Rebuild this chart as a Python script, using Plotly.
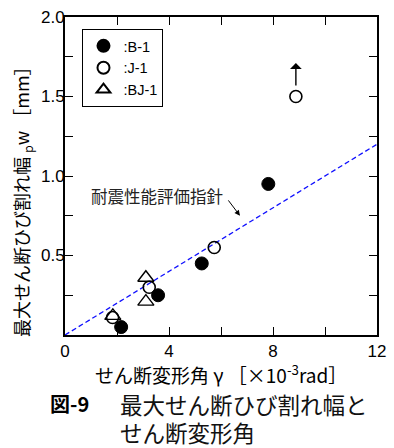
import plotly.graph_objects as go

# Data
b1_x = [2.16, 3.58, 5.26, 7.82]
b1_y = [0.05, 0.25, 0.45, 0.95]
j1_x = [1.83, 3.24, 5.74, 8.88]
j1_y = [0.11, 0.30, 0.55, 1.50]
bj1_x = [1.84, 3.11, 3.11]
bj1_y = [0.12, 0.36, 0.21]
guide_x = [0, 12]
guide_y = [0, 1.2]

xtick_vals = [0, 4, 8, 12]
xtick_text = ["0", "4", "8", "12"]
ytick_vals = [0.5, 1.0, 1.5, 2.0]
ytick_text = ["0.5", "1.0", "1.5", "2.0"]

FONT = "Liberation Sans, Arial, Noto Sans CJK JP"
CJK = "Noto Sans CJK JP, sans-serif"

# plot area in pixels (for placing paper-referenced texts)
L, R, T, B = 65, 386, 15, 335
def px(xp):
    return (xp - L) / (R - L)
def py(yp):
    return (B - yp) / (B - T)

fig = go.Figure()
fig.add_trace(go.Scatter(x=guide_x, y=guide_y, mode="lines",
                         line=dict(color="#1010ff", width=1.3, dash="5px,3px"),
                         showlegend=False, hoverinfo="skip"))
fig.add_trace(go.Scatter(x=b1_x, y=b1_y, mode="markers", name=":B-1",
                         marker=dict(symbol="circle", size=13, color="black",
                                     line=dict(color="black", width=1))))
fig.add_trace(go.Scatter(x=j1_x, y=j1_y, mode="markers", name=":J-1",
                         marker=dict(symbol="circle-open", size=12, color="black",
                                     line=dict(color="black", width=1.6))))
fig.add_trace(go.Scatter(x=bj1_x, y=bj1_y, mode="markers", name=":BJ-1",
                         marker=dict(symbol="triangle-up-open", size=14, color="black",
                                     line=dict(color="black", width=1.4))))

axis_common = dict(showline=True, linecolor="black", linewidth=2, mirror="ticks",
                   ticks="inside", ticklen=8, tickwidth=1.2, tickcolor="black",
                   showgrid=False, zeroline=False,
                   tickfont=dict(family=FONT, size=17, color="black"))

fig.update_xaxes(range=[0, 12], tickvals=xtick_vals, ticktext=xtick_text,
                 minor=dict(dtick=2, tick0=0, ticks="inside", ticklen=8, tickwidth=1.2,
                            tickcolor="black", showgrid=False),
                 **axis_common)
fig.update_yaxes(range=[0, 2.0], tickvals=ytick_vals, ticktext=ytick_text,
                 ticklabelstandoff=-5,
                 minor=dict(dtick=0.25, tick0=0, ticks="inside", ticklen=8, tickwidth=1.2,
                            tickcolor="black", showgrid=False),
                 **axis_common)

annotations = [
    # arrow above J-1 point
    dict(x=8.88, y=1.71, ax=8.88, ay=1.56, xref="x", yref="y", axref="x", ayref="y",
         showarrow=True, arrowhead=1, arrowsize=1.4, arrowwidth=1.4, arrowcolor="black", text=""),
    # guide label
    dict(x=3.55, y=0.875, xref="x", yref="y", text="耐震性能評価指針", showarrow=False,
         font=dict(family=CJK, size=16.5, color="#222")),
    dict(x=6.73, y=0.75, ax=6.24, ay=0.856, xref="x", yref="y", axref="x", ayref="y",
         showarrow=True, arrowhead=2, arrowsize=1.1, arrowwidth=1, arrowcolor="black", text=""),
    # x-axis title
    dict(x=px(225), y=py(374), xref="paper", yref="paper",
         text="せん断変形角 γ ［×10<sup>-3</sup>rad］", showarrow=False,
         font=dict(family=CJK, size=19, color="black"), xanchor="center", yanchor="middle"),
    # y-axis title
    dict(x=px(22), y=py(196), xref="paper", yref="paper",
         text="最大せん断ひび割れ幅 <sub>p</sub>w ［mm］", showarrow=False, textangle=-90,
         font=dict(family=CJK, size=18, color="black"), xanchor="center", yanchor="middle"),
    # caption
    dict(x=px(48), y=py(404), xref="paper", yref="paper",
         text="<b>図-9</b>", showarrow=False,
         font=dict(family=CJK, size=20, color="black"), xanchor="left", yanchor="middle"),
    dict(x=px(120), y=py(404), xref="paper", yref="paper",
         text="最大せん断ひび割れ幅と", showarrow=False,
         font=dict(family=CJK, size=22.5, color="#111"), xanchor="left", yanchor="middle"),
    dict(x=px(120), y=py(433), xref="paper", yref="paper",
         text="せん断変形角", showarrow=False,
         font=dict(family=CJK, size=22.5, color="#111"), xanchor="left", yanchor="middle"),
]

fig.update_layout(
    width=394, height=448,
    margin=dict(l=L, r=394 - R, t=T, b=448 - B),
    paper_bgcolor="white", plot_bgcolor="white",
    showlegend=True,
    legend=dict(x=px(83), y=py(27), xanchor="left", yanchor="top",
                bordercolor="black", borderwidth=1, bgcolor="white",
                font=dict(family=FONT, size=14.5, color="black"),
                tracegroupgap=0, itemsizing="constant"),
    annotations=annotations,
)

fig.write_html("out.html", config={"displayModeBar": False},
               post_script="document.body.style.margin='0';")
